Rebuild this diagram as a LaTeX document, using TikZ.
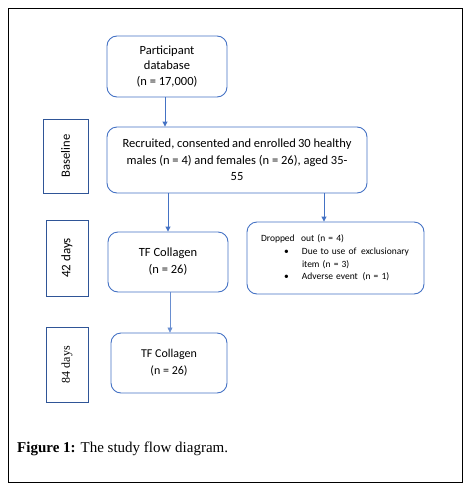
\documentclass[tikz,border=0pt]{standalone}
\usepackage{fontspec}
\setmainfont{Liberation Serif}
\newfontfamily\calfont{Carlito}
\usetikzlibrary{arrows.meta,calc}
\definecolor{boxblue}{HTML}{4472C4}
\definecolor{sideblue}{HTML}{2F5597}
\begin{document}
\begin{tikzpicture}[x=1pt,y=-1pt,
  flowbox/.style={draw=boxblue,line width=0.9pt,rounded corners=10pt,align=center,inner sep=0pt,font=\calfont\fontsize{12.5}{15.5}\selectfont},
  sidebox/.style={draw=sideblue,line width=0.9pt,inner sep=0pt},
  flowarrow/.style={draw=boxblue,line width=0.9pt,-{Triangle[width=5pt,length=5pt]}}]
\useasboundingbox (0,0) rectangle (466,490);
\node[draw=black,line width=0.9pt,minimum width=454pt,minimum height=474pt,inner sep=0pt] (frame) at (235,245) {};
% main boxes
\node[flowbox,minimum width=120pt,minimum height=61pt] (db) at (167,66.5) {Participant\\database\\(n = 17,000)};
\node[flowbox,minimum width=260pt,minimum height=66pt,font=\calfont\fontsize{12.5}{16.5}\selectfont] (rec) at (237,160) {Recruited, consented\,and enrolled\,30 healthy\\males (n = 4) and females (n = 26), aged 35-\\55};
\node[flowbox,minimum width=120pt,minimum height=60pt,font=\calfont\fontsize{12.5}{17}\selectfont] (tf1) at (168,262) {TF Collagen\\(n = 26)};
\node[flowbox,text width=149pt,inner xsep=14pt,minimum height=72pt,align=left,font=\calfont\fontsize{9.5}{12.7}\selectfont] (drop) at (335.5,258) {Dropped\,\, out (n = 4)\\
\hspace*{23pt}\makebox[18pt][l]{•}Due to use of\, exclusionary\\
\hspace*{41pt}item (n = 3)\\
\hspace*{23pt}\makebox[18pt][l]{•}Adverse event\, (n = 1)\\[5pt]};
\node[flowbox,minimum width=116pt,minimum height=60pt,font=\calfont\fontsize{12}{17}\selectfont] (tf2) at (169,363) {TF Collagen\\(n = 26)};
% side boxes
\node[sidebox,minimum width=45pt,minimum height=74pt] (base) at (65.5,156) {};
\node[rotate=90,font=\calfont\fontsize{12.6}{14}\selectfont] (baset) at (base.center) {Baseline};
\node[sidebox,minimum width=42pt,minimum height=76pt] (d42) at (67,258) {};
\node[rotate=90,font=\calfont\fontsize{13}{14}\selectfont] (d42t) at (d42.center) {42 days};
\node[sidebox,minimum width=42pt,minimum height=75pt] (d84) at (67,364.5) {};
\node[rotate=90,font=\fontsize{12}{14}\selectfont] (d84t) at (d84.center) {84 days};
% arrows
\draw[flowarrow] ([xshift=-2pt]db.south) -- ([xshift=-2pt]db.south |- rec.north);
\draw[flowarrow] (rec.south -| tf1.north) -- (tf1.north);
\coordinate (dn) at ([xshift=-11.5pt]drop.north);
\draw[flowarrow] (rec.south -| dn) -- (dn);
\draw[flowarrow,line width=0.6pt,draw=boxblue!80] ([xshift=2pt]tf1.south) -- ([xshift=2pt]tf1.south |- tf2.north);
% caption
\node[anchor=base west,inner sep=0pt,font=\fontsize{15}{17}\selectfont] (cap) at (17,452) {\textbf{Figure 1:} The study flow diagram.};
\end{tikzpicture}
\end{document}
